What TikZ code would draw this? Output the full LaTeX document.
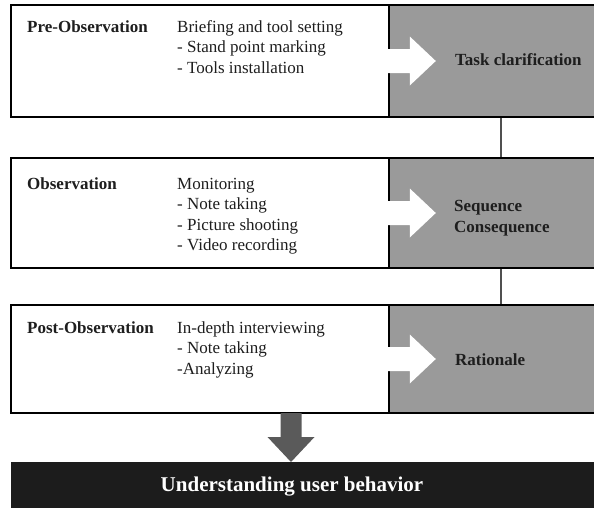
\documentclass[tikz,border=0pt]{standalone}
\usepackage{fontspec}
\setmainfont{Liberation Serif}
\usetikzlibrary{calc}
\definecolor{stagegray}{HTML}{9A9A9A}
\definecolor{linkgray}{HTML}{505050}
\definecolor{downgray}{HTML}{5A5A5A}
\definecolor{barblack}{HTML}{1C1C1C}
\definecolor{ink}{HTML}{1E1E1E}
\begin{document}
\begin{tikzpicture}[x=1pt,y=-1pt,
  phasebox/.style={draw=black, fill=white, line width=2.4pt, rectangle,
    inner sep=0pt, minimum width=378pt},
  resultbox/.style={draw=black, fill=stagegray, line width=2.4pt, rectangle,
    inner sep=0pt, minimum width=224pt},
  phasename/.style={anchor=base west, inner sep=0pt, text=ink,
    font=\fontsize{17}{20.5}\selectfont\bfseries},
  % multi-line nodes are placed by the baseline of their last line
  steplist/.style={anchor=base west, inner sep=0pt, text=ink, align=left,
    font=\fontsize{17}{20.5}\selectfont},
  resultname/.style={anchor=base west, inner sep=0pt, text=ink, align=left,
    font=\fontsize{17}{21}\selectfont\bfseries},
  link/.style={draw=linkgray, line width=1.5pt},
]
\useasboundingbox (0,0) rectangle (594,507);
\clip (0,0) rectangle (594,507);

% phase boxes (left, white) and their outcomes (right, grey)
\node[phasebox, minimum height=112pt] (preL) at (200,61) {};
\node[resultbox, minimum height=112pt] (preR) at (501,61) {};
\node[phasebox, minimum height=110pt] (obsL) at (200,213) {};
\node[resultbox, minimum height=110pt] (obsR) at (501,213) {};
\node[phasebox, minimum height=108pt] (postL) at (200,359) {};
\node[resultbox, minimum height=108pt] (postR) at (501,359) {};

% white arrows from each phase into its outcome
\foreach \r in {preR, obsR, postR}{
  \fill[white] ($(\r.west)+(-9,-12)$) -- ($(\r.west)+(22,-12)$)
    -- ($(\r.west)+(22,-24.5)$) -- ($(\r.west)+(48,0)$)
    -- ($(\r.west)+(22,24.5)$) -- ($(\r.west)+(22,12)$)
    -- ($(\r.west)+(-9,12)$) -- cycle;
}

% links between the outcomes
\draw[link] (preR.south) -- (obsR.north);
\draw[link] (obsR.south) -- (postR.north);

% final result bar
\fill[barblack] (11,462) rectangle (600,510);
\node[inner sep=0pt, anchor=base, text=white,
  font=\fontsize{21}{25}\selectfont\bfseries] (goal) at (292,491)
  {Understanding user behavior};

% thick arrow from the last phase down to the result
\coordinate (dtop) at (291,413);
\coordinate (dtip) at (291,462);
\fill[downgray] ($(dtop)+(-10.5,0)$) -- ($(dtop)+(10.5,0)$)
  -- ($(dtop)+(10.5,24)$) -- ($(dtop)+(23.5,24)$) -- (dtip)
  -- ($(dtop)+(-23.5,24)$) -- ($(dtop)+(-10.5,24)$) -- cycle;

% texts
\node[phasename] (preN) at (27,32) {Pre-Observation};
\node[steplist] (preS) at (177,73) {Briefing and tool setting\\- Stand point marking\\- Tools installation};
\node[resultname] (preT) at (455,65) {Task clarification};

\node[phasename] (obsN) at (27,189) {Observation};
\node[steplist] (obsS) at (177,250.5) {Monitoring\\- Note taking\\- Picture shooting\\- Video recording};
\node[resultname] (obsT) at (454,232) {Sequence\\Consequence};

\node[phasename] (postN) at (27,333) {Post-Observation};
\node[steplist] (postS) at (177,374) {In-depth interviewing\\- Note taking\\-Analyzing};
\node[resultname] (postT) at (455,365) {Rationale};
\end{tikzpicture}
\end{document}
